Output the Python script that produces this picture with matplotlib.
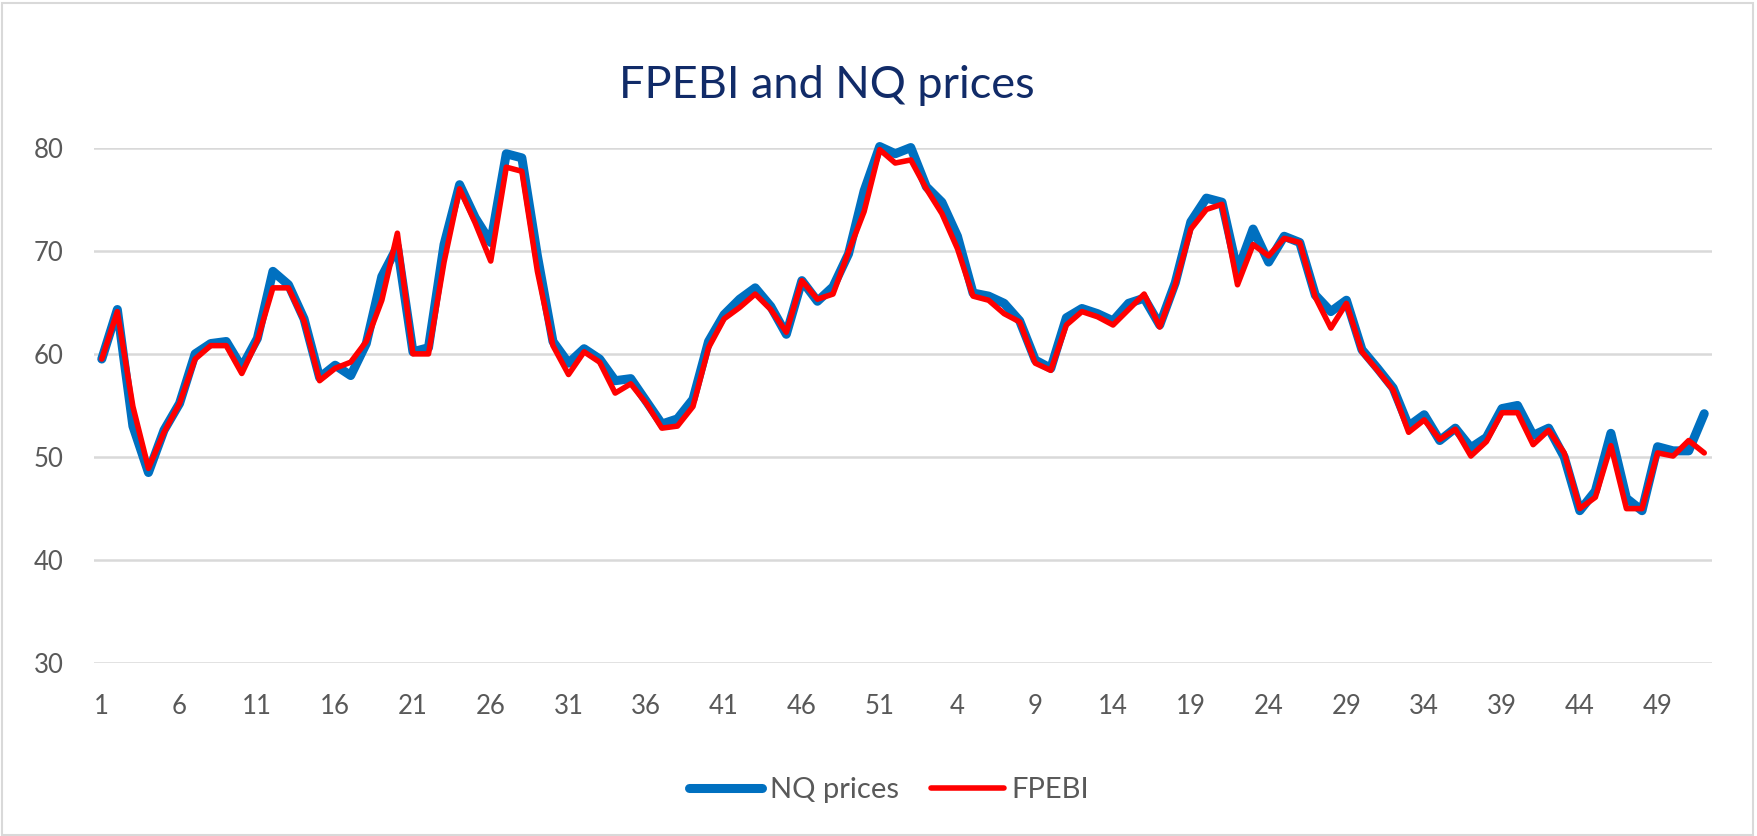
'''
FPEBI vs NQ prices, two years of weekly values
'''
import matplotlib
matplotlib.use('Agg')
import matplotlib.pyplot as plt
from matplotlib.patches import Rectangle

# week numbers: two consecutive years of 52 weeks
weeks = list(range(1, 53)) + list(range(1, 53))

nq_prices = [59.5, 64.3, 53.0, 48.5, 52.6, 55.2, 60.0, 61.0, 61.2, 58.7,
             61.5, 68.0, 66.7, 63.4, 57.7, 58.9, 57.9, 61.0, 67.5, 70.4,
             60.2, 60.6, 70.6, 76.4, 73.2, 70.8, 79.4, 79.0, 69.5, 61.2,
             59.1, 60.5, 59.5, 57.4, 57.6, 55.4, 53.2, 53.7, 55.6, 61.2,
             63.8, 65.3, 66.4, 64.6, 61.9, 67.1, 65.1, 66.5, 69.7, 75.8,
             80.1, 79.4, 80.0, 76.2, 74.7, 71.4, 65.9, 65.6, 64.9, 63.2,
             59.4, 58.6, 63.5, 64.4, 63.9, 63.2, 64.9, 65.4, 62.8, 66.9,
             72.8, 75.1, 74.7, 68.0, 72.1, 68.9, 71.4, 70.8, 65.7, 64.1,
             65.2, 60.4, 58.6, 56.7, 53.0, 54.1, 51.6, 52.8, 50.9, 51.9,
             54.7, 55.0, 52.1, 52.8, 50.0, 44.8, 46.7, 52.3, 46.0, 44.8,
             51.0, 50.6, 50.6, 54.2]

fpebi = [59.5, 64.1, 54.9, 48.9, 52.4, 55.2, 59.5, 60.8, 60.8, 58.1,
         61.3, 66.4, 66.4, 63.2, 57.4, 58.6, 59.2, 61.2, 65.2, 71.7,
         60.0, 60.0, 68.9, 76.0, 72.7, 69.0, 78.1, 77.7, 68.0, 60.8,
         58.0, 60.2, 59.2, 56.2, 57.1, 55.2, 52.8, 53.0, 54.9, 60.6,
         63.4, 64.5, 65.8, 64.3, 62.1, 67.1, 65.3, 65.8, 69.9, 73.8,
         79.8, 78.5, 78.8, 76.0, 73.6, 70.2, 65.6, 65.2, 63.9, 63.1,
         59.1, 58.4, 62.8, 64.1, 63.6, 62.8, 64.3, 65.8, 62.6, 66.7,
         72.1, 74.0, 74.5, 66.7, 70.6, 69.5, 71.2, 70.8, 65.5, 62.5,
         64.9, 60.2, 58.4, 56.5, 52.4, 53.6, 51.7, 52.7, 50.1, 51.5,
         54.3, 54.3, 51.2, 52.6, 50.4, 45.0, 46.1, 51.1, 45.0, 45.0,
         50.4, 50.1, 51.6, 50.4]

y_ticks = [30, 40, 50, 60, 70, 80]

plt.rcParams['font.family'] = ['Lato', 'DejaVu Sans']
grey_txt = '#595959'

fig = plt.figure(figsize=(17.57, 8.36), dpi=100)
fig.patches.append(Rectangle((0.001, 0.001), 0.997, 0.996, transform=fig.transFigure,
                             fill=False, edgecolor='#D9D9D9', linewidth=1.5))
ax = fig.add_axes([0.0535, 0.2065, 0.9209, 0.617])

x = list(range(len(nq_prices)))
ax.plot(x, nq_prices, color='#0070C0', lw=6.5, solid_joinstyle='round',
        solid_capstyle='round', clip_on=False, label='NQ prices', zorder=3)
ax.plot(x, fpebi, color='#FF0000', lw=4.0, solid_joinstyle='round',
        solid_capstyle='round', clip_on=False, label='FPEBI', zorder=4)

ax.set_xlim(-0.5, len(x) - 0.5)
ax.set_ylim(30, 80)
ax.set_yticks(y_ticks)
ax.set_xticks(x[::5])
ax.set_xticklabels([str(weeks[i]) for i in x[::5]])
ax.grid(axis='y', color='#D9D9D9', lw=1.8)
ax.set_axisbelow(True)
for s in ax.spines.values():
    s.set_visible(False)
ax.tick_params(axis='both', length=0, labelsize=18.5, labelcolor=grey_txt)
ax.tick_params(axis='y', pad=22)
ax.tick_params(axis='x', pad=22)

fig.text(0.4705, 0.898, 'FPEBI and NQ prices', ha='center', va='center',
         fontsize=32.5, color='#112B68')

fig.legend(loc='center', bbox_to_anchor=(0.506, 0.055), ncol=2, frameon=False,
           fontsize=21, labelcolor=grey_txt, handlelength=2.5,
           handletextpad=0.25, columnspacing=1.1)

fig.savefig('out.png', dpi=100)
